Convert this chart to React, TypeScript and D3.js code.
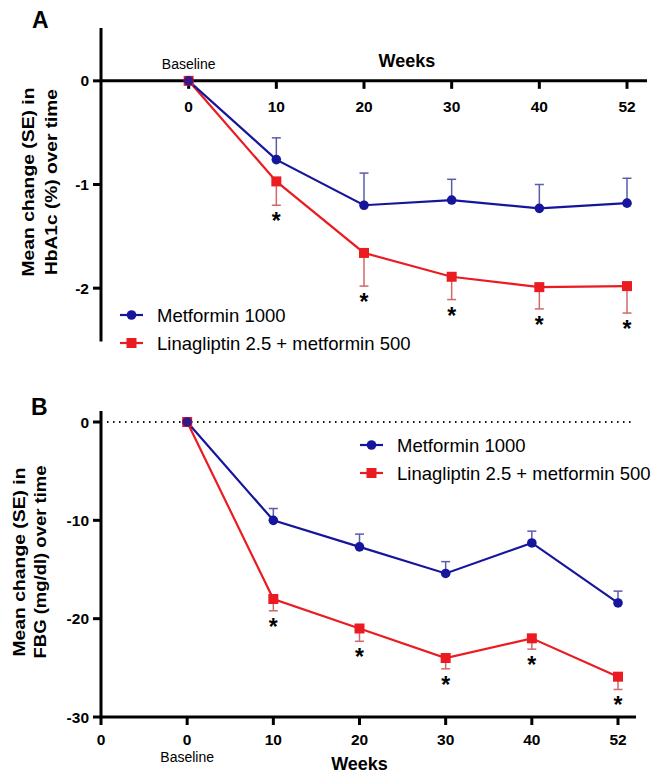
import { useEffect, useRef } from 'react';
import * as d3 from 'd3';

// time points (equally spaced categories on the x axis)
const weeks = ['0', '10', '20', '30', '40', '52'];

// Panel A: HbA1c (%) mean change and SE
const hbaMetformin = [0, -0.76, -1.2, -1.15, -1.23, -1.18];
const hbaMetforminSE = [0, 0.21, 0.31, 0.2, 0.23, 0.24];
const hbaLina = [0, -0.97, -1.66, -1.89, -1.99, -1.98];
const hbaLinaSE = [0, 0.23, 0.32, 0.22, 0.21, 0.26];
const hbaTicks = [0, -1, -2];

// Panel B: FBG (mg/dl) mean change and SE
const fbgMetformin = [0, -10.0, -12.7, -15.4, -12.3, -18.4];
const fbgMetforminSE = [0, 1.2, 1.3, 1.2, 1.2, 1.2];
const fbgLina = [0, -18.0, -21.0, -24.0, -22.0, -25.9];
const fbgLinaSE = [0, 1.2, 1.3, 1.1, 1.1, 1.3];
const fbgTicks = [0, -10, -20, -30];

// significance markers (per time point)
const significant = [false, true, true, true, true, true];

const seriesNames = ['Metformin 1000', 'Linagliptin 2.5 + metformin 500'];

const BLUE = '#16169c';
const RED = '#ea1c22';
const BLUE_ERR = '#5b5bab';
const RED_ERR = '#d06868';
const FONT = '"Liberation Sans", Arial, sans-serif';

type Panel = {
  letter: string;
  letterPos: [number, number];
  titleLines: string[];
  titleX: number[];
  titleY: number;
  titleLen: number[];
  yDomain: [number, number];
  yRange: [number, number];
  yTop: number;
  ticks: number[];
  xRange: [number, number];
  xEnd: number;
  xAxisAt: number;
  met: number[];
  metSE: number[];
  lina: number[];
  linaSE: number[];
  legendPos: [number, number];
  bottomAxis: boolean;
};

function drawPanel(svg: any, p: Panel) {
  const x = d3.scaleLinear().domain([-1, weeks.length - 1]).range(p.xRange);
  const y = d3.scaleLinear().domain(p.yDomain).range(p.yRange);
  const g = svg.append('g');

  // panel letter
  g.append('text')
    .attr('x', p.letterPos[0])
    .attr('y', p.letterPos[1])
    .style('font-family', FONT)
    .style('font-weight', 'bold')
    .style('font-size', '23px')
    .text(p.letter);

  // y title (two lines, rotated)
  p.titleLines.forEach((t, i) => {
    g.append('text')
      .attr('transform', `translate(${p.titleX[i]},${p.titleY}) rotate(-90)`)
      .attr('text-anchor', 'middle')
      .attr('textLength', p.titleLen[i])
      .attr('lengthAdjust', 'spacingAndGlyphs')
      .style('font-family', FONT)
      .style('font-weight', 'bold')
      .style('font-size', '16px')
      .text(t);
  });

  const axisX = x(-1);
  const xAxisY = y(p.xAxisAt);

  // zero reference line for panel B
  if (p.bottomAxis) {
    g.append('line')
      .attr('x1', axisX + 6)
      .attr('x2', p.xEnd - 5)
      .attr('y1', y(0))
      .attr('y2', y(0))
      .attr('stroke', '#111')
      .attr('stroke-width', 2)
      .attr('stroke-dasharray', '1.5,4.5');
  }

  // y axis
  g.append('line')
    .attr('x1', axisX).attr('x2', axisX)
    .attr('y1', p.yTop).attr('y2', y(p.yDomain[0]) + 1.5)
    .attr('stroke', '#000').attr('stroke-width', 3);

  p.ticks.forEach((t) => {
    g.append('line')
      .attr('x1', axisX - 8).attr('x2', axisX)
      .attr('y1', y(t)).attr('y2', y(t))
      .attr('stroke', '#000').attr('stroke-width', 3);
    g.append('text')
      .attr('x', axisX - 12)
      .attr('y', y(t))
      .attr('dy', '0.36em')
      .attr('text-anchor', 'end')
      .style('font-family', FONT)
      .style('font-weight', 'bold')
      .style('font-size', '15.5px')
      .text(t);
  });

  // x axis
  g.append('line')
    .attr('x1', axisX).attr('x2', p.xEnd)
    .attr('y1', xAxisY).attr('y2', xAxisY)
    .attr('stroke', '#000').attr('stroke-width', 3);

  const xTicks = p.bottomAxis ? d3.range(-1, weeks.length) : d3.range(0, weeks.length);
  xTicks.forEach((i) => {
    g.append('line')
      .attr('x1', x(i)).attr('x2', x(i))
      .attr('y1', xAxisY).attr('y2', xAxisY + 8)
      .attr('stroke', '#000').attr('stroke-width', 3);
    g.append('text')
      .attr('x', x(i))
      .attr('y', xAxisY + (p.bottomAxis ? 28 : 31))
      .attr('text-anchor', 'middle')
      .style('font-family', FONT)
      .style('font-weight', 'bold')
      .style('font-size', '15.5px')
      .text(i < 0 ? '0' : weeks[i]);
  });

  // "Baseline" and "Weeks" labels
  g.append('text')
    .attr('x', x(0))
    .attr('y', p.bottomAxis ? xAxisY + 45 : xAxisY - 12)
    .attr('text-anchor', 'middle')
    .style('font-family', FONT)
    .style('font-size', '14px')
    .text('Baseline');
  g.append('text')
    .attr('x', p.bottomAxis ? x(2) : (x(2) + x(3)) / 2 - 1)
    .attr('y', p.bottomAxis ? xAxisY + 53 : xAxisY - 14)
    .attr('text-anchor', 'middle')
    .style('font-family', FONT)
    .style('font-weight', 'bold')
    .style('font-size', '18px')
    .text('Weeks');

  const series = [
    { vals: p.met, se: p.metSE, dir: 1, color: BLUE, err: BLUE_ERR, shape: 'circle' },
    { vals: p.lina, se: p.linaSE, dir: -1, color: RED, err: RED_ERR, shape: 'square' },
  ];

  // error bars (one-sided)
  series.forEach((s) => {
    s.vals.forEach((v, i) => {
      if (!s.se[i]) return;
      const end = y(v + s.dir * s.se[i]);
      g.append('line')
        .attr('x1', x(i)).attr('x2', x(i))
        .attr('y1', y(v)).attr('y2', end)
        .attr('stroke', s.err).attr('stroke-width', 1.5);
      g.append('line')
        .attr('x1', x(i) - 4.5).attr('x2', x(i) + 4.5)
        .attr('y1', end).attr('y2', end)
        .attr('stroke', s.err).attr('stroke-width', 1.5);
    });
  });

  // lines and markers
  const line = d3.line<number>().x((_, i) => x(i)).y((v) => y(v));
  series.slice().reverse().forEach((s) => {
    g.append('path')
      .attr('d', line(s.vals))
      .attr('fill', 'none')
      .attr('stroke', s.color)
      .attr('stroke-width', 2.2);
  });
  series.forEach((s) => {
    s.vals.forEach((v, i) => {
      if (s.shape === 'circle') {
        g.append('circle').attr('cx', x(i)).attr('cy', y(v)).attr('r', 4.8).attr('fill', s.color);
      } else {
        g.append('rect')
          .attr('x', x(i) - 5).attr('y', y(v) - 5)
          .attr('width', 10).attr('height', 10)
          .attr('fill', s.color);
      }
    });
  });
  // baseline marker overlay (blue circle on top of the red square)
  g.append('circle').attr('cx', x(0)).attr('cy', y(0)).attr('r', 4.8).attr('fill', BLUE).attr('opacity', 0.85);

  // significance stars under the combination arm
  p.lina.forEach((v, i) => {
    if (!significant[i]) return;
    g.append('text')
      .attr('x', x(i))
      .attr('y', y(v - p.linaSE[i]) + 24)
      .attr('text-anchor', 'middle')
      .style('font-family', FONT)
      .style('font-weight', 'bold')
      .style('font-size', '23px')
      .text('*');
  });

  // legend
  series.forEach((s, i) => {
    const ly = p.legendPos[1] + i * 28;
    const lx = p.legendPos[0];
    g.append('line')
      .attr('x1', lx).attr('x2', lx + 23)
      .attr('y1', ly).attr('y2', ly)
      .attr('stroke', s.color).attr('stroke-width', 2.2);
    if (s.shape === 'circle') {
      g.append('circle').attr('cx', lx + 11.5).attr('cy', ly).attr('r', 4.8).attr('fill', s.color);
    } else {
      g.append('rect').attr('x', lx + 6.5).attr('y', ly - 5).attr('width', 10).attr('height', 10).attr('fill', s.color);
    }
    g.append('text')
      .attr('x', lx + 37)
      .attr('y', ly)
      .attr('dy', '0.36em')
      .style('font-family', FONT)
      .style('font-size', '18.5px')
      .text(seriesNames[i]);
  });
}

export default function App() {
  const ref = useRef<SVGSVGElement>(null);

  useEffect(() => {
    if (!ref.current) return;
    const svg = d3.select(ref.current);
    svg.selectAll('*').remove();

    drawPanel(svg, {
      letter: 'A',
      letterPos: [32, 28],
      titleLines: ['Mean change (SE) in', 'HbA1c (%) over time'],
      titleX: [34, 57],
      titleY: 182,
      titleLen: [189, 186],
      yDomain: [-2.5, 0.5],
      yRange: [340, 29],
      yTop: 28,
      ticks: hbaTicks,
      xRange: [101, 627],
      xEnd: 647,
      xAxisAt: 0,
      met: hbaMetformin,
      metSE: hbaMetforminSE,
      lina: hbaLina,
      linaSE: hbaLinaSE,
      legendPos: [120, 315],
      bottomAxis: false,
    });

    drawPanel(svg, {
      letter: 'B',
      letterPos: [31, 415],
      titleLines: ['Mean change (SE) in', 'FBG (mg/dl) over time'],
      titleX: [25, 46],
      titleY: 562,
      titleLen: [189, 193],
      yDomain: [-30, 0],
      yRange: [717, 422],
      yTop: 411,
      ticks: fbgTicks,
      xRange: [101, 618],
      xEnd: 636,
      xAxisAt: -30,
      met: fbgMetformin,
      metSE: fbgMetforminSE,
      lina: fbgLina,
      linaSE: fbgLinaSE,
      legendPos: [360, 445],
      bottomAxis: true,
    });
  }, []);

  return (
    <svg
      ref={ref}
      width={657}
      height={773}
      style={{ position: 'absolute', left: 0, top: 0, background: '#fff' }}
    />
  );
}
